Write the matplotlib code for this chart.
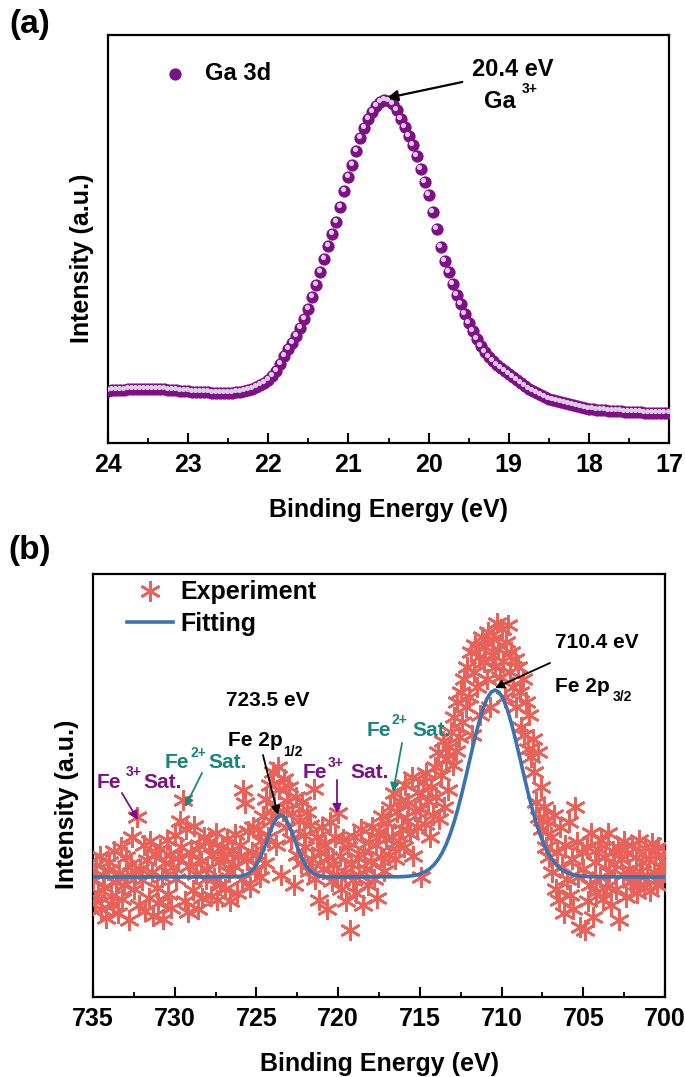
import numpy as np
import matplotlib
matplotlib.use("Agg")
import matplotlib.pyplot as plt
from matplotlib.transforms import offset_copy
from matplotlib.ticker import MultipleLocator

plt.rcParams['font.family'] = ['Liberation Sans', 'DejaVu Sans']
plt.rcParams['font.weight'] = 'bold'

# ---------------- Panel (a): Ga 3d ----------------
ga_energy = np.linspace(24.0, 17.0, 141)
ga_intensity = [
    52.5, 53, 53, 53.5, 53.5, 54, 54, 54.5, 54.5, 54.5,
    54.5, 54.5, 54, 54, 54, 53.5, 53, 53, 52.5, 52,
    52, 51.5, 51.5, 51, 51, 51, 50.5, 50.5, 50, 50,
    50.5, 50.5, 51, 51.5, 52,
    53, 54, 56, 58, 60, 63, 67, 72, 79, 87,
    94, 100, 107, 115, 124, 134, 146, 158, 171, 184,
    197, 209, 221, 236, 252, 266, 278, 292, 305, 315,
    324, 331, 337, 341, 343, 342, 339, 333, 324, 316,
    307, 298, 287, 274, 261, 248, 231, 214, 196, 182,
    171, 159, 148, 139, 129, 120, 112, 104, 97, 91,
    86, 82, 78, 75, 72, 69, 66, 63, 60, 57,
    54, 52, 50, 48, 46, 44.5, 43, 42, 41, 40,
    39, 38, 37, 36, 35, 34.5, 34, 33.5, 33, 33,
    32.5, 32.5, 32, 32, 31.5, 31.5, 31, 31, 31, 30.5,
    30.5, 30.5, 30, 30, 30, 30,
]
ga_xticks = [24, 23, 22, 21, 20, 19, 18, 17]

# ---------------- Panel (b): Fe 2p ----------------
fe_energy = np.linspace(735.0, 700.0, 351)
fe_intensity = [
    118, 96, 132, 104, 141, 88, 122, 110, 79, 127,
    135, 101, 92, 146, 115, 84, 124, 150, 98, 112,
    140, 121, 77, 133, 160, 108, 126, 180, 92, 128,
    117, 152, 86, 137, 99, 156, 125, 81, 143, 109,
    94, 148, 120, 78, 134, 157, 103, 142, 89, 130,
    162, 118, 139, 176, 150, 197, 96, 168, 85, 131,
    144, 107, 171, 123, 88, 152, 136, 99, 160, 118,
    128, 155, 101, 142, 119, 164, 97, 135, 112, 150,
    139, 108, 158, 125, 96, 147, 131, 163, 104, 140,
    152, 118, 207, 194, 137, 166, 110, 145, 170, 126,
    143, 168, 120, 156, 181, 134, 198, 160, 212, 176,
    225, 190, 152, 230, 208, 122, 186, 218, 170, 196,
    210, 158, 184, 112, 200, 142, 176, 134, 195, 162,
    150, 185, 126, 172, 138, 208, 118, 160, 97, 145,
    170, 128, 152, 88, 140, 175, 116, 132, 160, 122,
    184, 141, 108, 158, 125, 96, 150, 67, 133, 117,
    160, 104, 139, 122, 168, 92, 146, 128, 112, 155,
    136, 170, 118, 152, 99, 165, 140, 181, 126, 158,
    174, 142, 190, 160, 204, 138, 185, 152, 196, 168,
    150, 212, 176, 194, 163, 220, 141, 186, 170, 205,
    188, 120, 215, 173, 224, 196, 160, 210, 182, 230,
    200, 245, 178, 222, 256, 190, 238, 207, 250, 265,
    232, 280, 246, 295, 260, 305, 275, 318, 290, 330,
    300, 345, 262, 325, 352, 310, 340, 282, 360, 335,
    350, 318, 365, 290, 342, 358, 330, 374, 348, 320,
    368, 336, 300, 355, 372, 325, 345, 310, 338, 290,
    330, 305, 270, 318, 262, 295, 248, 282, 240, 258,
    225, 195, 245, 180, 210, 168, 190, 150, 176, 140,
    160, 125, 182, 108, 145, 97, 170, 130, 84, 152,
    118, 175, 102, 138, 88, 190, 155, 120, 70, 145,
    128, 67, 150, 96, 112, 164, 80, 135, 105, 148,
    120, 157, 98, 140, 110, 164, 125, 92, 146, 133,
    108, 150, 77, 138, 122, 156, 100, 144, 128, 115,
    152, 118, 140, 104, 157, 126, 135, 110, 149, 122,
    138, 106, 154, 125, 145, 112, 150, 130, 118, 142,
    128,
]

fit_energy = ([735.0] + [726.5 - 0.25 * i for i in range(25)]
              + [716.4 - 0.25 * i for i in range(49)] + [700.0])
fit_intensity = (
    [120.0]
    + [120.1, 120.3, 120.7, 121.6, 123.4, 126.7, 132.1, 140.0, 150.0, 161.2,
       171.7, 179.3, 182.0, 179.3, 171.7, 161.2, 150.0, 140.0, 132.1, 126.7,
       123.4, 121.6, 120.7, 120.3, 120.1]
    + [120.2, 120.3, 120.5, 120.9, 121.4, 122.3, 123.6, 125.5, 128.2, 132.0,
       137.1, 143.8, 152.2, 162.7, 175.2, 189.6, 205.6, 222.8, 240.5, 257.8,
       273.8, 287.5, 298.1, 304.7, 307.0, 304.7, 298.1, 287.5, 273.8, 257.8,
       240.5, 222.8, 205.6, 189.6, 175.2, 162.7, 152.2, 143.8, 137.1, 132.0,
       128.2, 125.5, 123.6, 122.3, 121.4, 120.9, 120.5, 120.3, 120.2]
    + [120.0]
)
fe_xticks = [735, 730, 725, 720, 715, 710, 705, 700]

# ---------------- Figure ----------------
W, H = 685, 1077
fig = plt.figure(figsize=(W / 100, H / 100), dpi=100)

def px_axes(l, t, r, b):
    return fig.add_axes([l / W, 1 - b / H, (r - l) / W, (b - t) / H])

axa = px_axes(108, 35, 669, 443)
axb = px_axes(93, 574, 665, 997)

PURPLE = '#7e0f86'
TEAL = '#17877e'
RED = '#e8625a'
BLUE = '#3a74b0'
TICKFS = 18
LABFS = 18

for ax, ylab_y in ((axa, 0.453), (axb, 0.456)):
    for s in ax.spines.values():
        s.set_linewidth(1.6)
    ax.set_yticks([])
    ax.tick_params(axis='x', which='major', direction='in', length=7, width=1.5,
                   labelsize=TICKFS, pad=7.5)
    ax.tick_params(axis='x', which='minor', direction='in', length=3.8, width=1.3)
    ax.set_ylabel('Intensity (a.u.)', fontsize=LABFS, fontweight='bold', labelpad=10,
                  y=ylab_y)
    ax.set_xlabel('Binding Energy (eV)', fontsize=LABFS, fontweight='bold', labelpad=15)

# ---- panel (a)
axa.set_xlim(24, 17)
axa.set_ylim(0, 408)
axa.xaxis.set_minor_locator(MultipleLocator(0.5))
axa.set_xticks(ga_xticks)
axa.set_xticklabels([str(t) for t in ga_xticks])

sc1 = axa.scatter(ga_energy, ga_intensity, s=78, color=PURPLE, linewidths=0, zorder=3)
hl_tr = offset_copy(axa.transData, fig=fig, x=-1.5, y=1.8, units='dots')
axa.scatter(ga_energy, ga_intensity, s=14, color='#dccfe3', linewidths=0,
            zorder=4, transform=hl_tr)
axa.legend([sc1], ['Ga 3d'],
           loc='center left', bbox_to_anchor=(0.098, 0.905), frameon=False,
           fontsize=17, handlelength=1.0, handletextpad=0.8, borderpad=0,
           borderaxespad=0, scatterpoints=1)

axa.annotate('', xy=(20.52, 345), xytext=(19.58, 361),
             arrowprops=dict(arrowstyle='-|>', color='black', lw=1.6,
                             mutation_scale=16, shrinkA=0, shrinkB=0))
axa.text(18.95, 373, '20.4 eV', fontsize=17, fontweight='bold', ha='center', va='center')
axa.text(19.11, 342, 'Ga', fontsize=17, fontweight='bold', ha='center', va='center')
axa.text(18.84, 354, '3+', fontsize=10, fontweight='bold', ha='left', va='center')

fig.text(30 / W, 1 - 25 / H, '(a)', fontsize=24, fontweight='bold', ha='center', va='center')
fig.text(30 / W, 1 - 551 / H, '(b)', fontsize=24, fontweight='bold', ha='center', va='center')

# ---- panel (b)
axb.set_xlim(735, 700)
axb.set_ylim(0, 423)
axb.xaxis.set_minor_locator(MultipleLocator(2.5))
axb.set_xticks(fe_xticks)
axb.set_xticklabels([str(t) for t in fe_xticks])

axb.plot(fe_energy, fe_intensity, linestyle='none', marker=(6, 2, 0), markersize=15,
         markeredgewidth=1.9, color=RED, markeredgecolor=RED, zorder=3, label='Experiment')
axb.plot(fit_energy, fit_intensity, color=BLUE, lw=2.6, zorder=4, label='Fitting')
axb.legend(loc='upper left', bbox_to_anchor=(0.0594, 0.985), frameon=False,
           fontsize=18, handlelength=1.85, handletextpad=0.3, borderpad=0,
           borderaxespad=0, labelspacing=0.3, numpoints=1)

AFS = 15
SFS = 10
arrow_k = dict(arrowstyle='-|>', lw=1.3, mutation_scale=13, shrinkA=0, shrinkB=0)

# 723.5 eV / Fe 2p1/2
axb.text(724.29, 297, '723.5 eV', fontsize=AFS, fontweight='bold', ha='center', va='center')
axb.text(726.74, 257, 'Fe 2p', fontsize=AFS, fontweight='bold', ha='left', va='center')
axb.text(723.37, 245, '1/2', fontsize=SFS, fontweight='bold', ha='left', va='center')
axb.annotate('', xy=(723.68, 182), xytext=(724.6, 242), arrowprops=dict(color='black', **arrow_k))

# 710.4 eV / Fe 2p3/2
axb.text(706.73, 354, '710.4 eV', fontsize=AFS, fontweight='bold', ha='left', va='center')
axb.text(706.73, 310, 'Fe 2p', fontsize=AFS, fontweight='bold', ha='left', va='center')
axb.text(703.18, 300, '3/2', fontsize=SFS, fontweight='bold', ha='left', va='center')
axb.annotate('', xy=(710.4, 309), xytext=(707.04, 334), arrowprops=dict(color='black', **arrow_k))

def sat(ax, x_fe, x_sup, x_sat, y, ysup, sup, color):
    ax.text(x_fe, y, 'Fe', fontsize=AFS, fontweight='bold', color=color, ha='left', va='center')
    ax.text(x_sup, ysup, sup, fontsize=SFS, fontweight='bold', color=color, ha='left', va='center')
    ax.text(x_sat, y, 'Sat.', fontsize=AFS, fontweight='bold', color=color, ha='left', va='center')

sat(axb, 734.76, 733.0, 731.94, 215, 225, '3+', PURPLE)
axb.annotate('', xy=(732.25, 177), xytext=(733.23, 204), arrowprops=dict(color=PURPLE, **arrow_k))

sat(axb, 730.59, 729.06, 727.96, 234, 244, '2+', TEAL)
axb.annotate('', xy=(729.37, 190), xytext=(728.33, 224), arrowprops=dict(color=TEAL, **arrow_k))

sat(axb, 722.15, 720.62, 719.27, 225, 234, '3+', PURPLE)
axb.annotate('', xy=(720.07, 184), xytext=(720.07, 217), arrowprops=dict(color=PURPLE, **arrow_k))

sat(axb, 718.23, 716.75, 715.48, 267, 277, '2+', TEAL)
axb.annotate('', xy=(716.64, 205), xytext=(716.09, 254), arrowprops=dict(color=TEAL, **arrow_k))

assert len(ga_intensity) == len(ga_energy)
assert len(fe_intensity) == len(fe_energy)
assert len(fit_intensity) == len(fit_energy)

fig.savefig('out.png', dpi=100)
